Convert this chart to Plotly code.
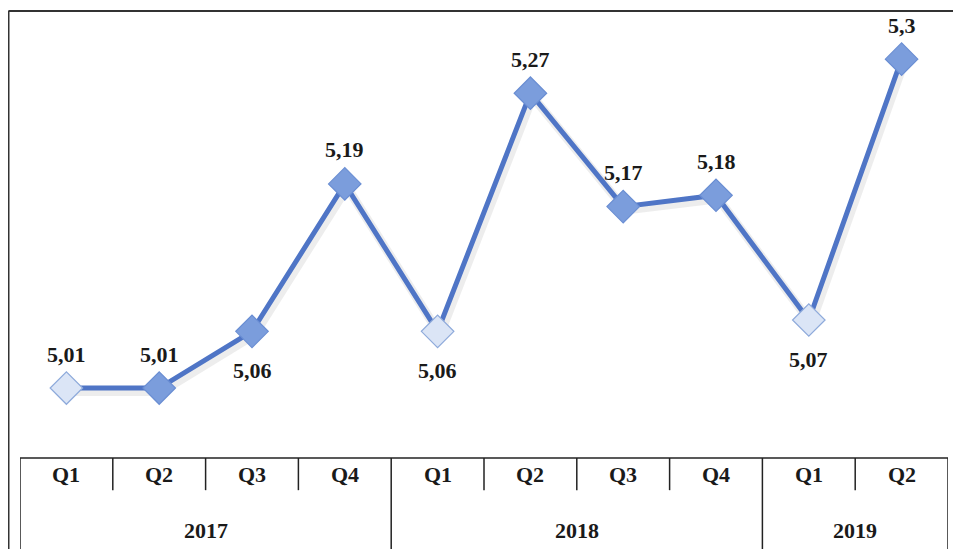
import plotly.graph_objects as go

quarters = ["Q1", "Q2", "Q3", "Q4", "Q1", "Q2", "Q3", "Q4", "Q1", "Q2"]
years = ["2017", "2018", "2019"]
year_counts = [4, 4, 2]
values = [5.01, 5.01, 5.06, 5.19, 5.06, 5.27, 5.17, 5.18, 5.07, 5.30]
labels = ["5,01", "5,01", "5,06", "5,19", "5,06", "5,27", "5,17", "5,18", "5,07", "5,3"]
label_above = [True, True, False, True, False, True, True, True, False, True]
light_points = [0, 4, 8]

x = list(range(len(values)))
dark = "#7b9ddc"
light = "#dbe5f6"
marker_colors = [light if i in light_points else dark for i in x]
marker_lines = ["#8eaadb" if i in light_points else "#6a8ed3" for i in x]

fig = go.Figure()
# soft shadow under the line
fig.add_trace(go.Scatter(x=[v + 0.025 for v in x], y=[v - 0.003 for v in values], mode="lines",
                         line=dict(color="rgba(110,110,110,0.12)", width=9),
                         hoverinfo="skip", showlegend=False))
fig.add_trace(go.Scatter(
    x=x, y=values, mode="lines+markers",
    line=dict(color="#4f75c6", width=5),
    marker=dict(symbol="diamond", size=25, color=marker_colors,
                line=dict(color=marker_lines, width=1.2)),
    showlegend=False, cliponaxis=False))

font = dict(family="Liberation Serif", size=22, color="#1a1a1a")
shapes = []
annotations = []
for xi, v, lab, above in zip(x, values, labels, label_above):
    annotations.append(dict(x=xi, y=v, xref="x", yref="y", text="<b>%s</b>" % lab,
                            showarrow=False, font=font, yanchor="middle",
                            yshift=34 if above else -39))

line_style = dict(color="#222222", width=1.5)
tbl_bottom = -0.25
q_bottom = -0.072
n = len(values)
# table top line
shapes.append(dict(type="line", xref="x", yref="paper", x0=-0.5, x1=n - 0.5,
                   y0=0, y1=0, line=line_style))
# quarter labels
for i, q in enumerate(quarters):
    annotations.append(dict(x=i, y=-0.038, xref="x", yref="paper", text="<b>%s</b>" % q,
                            showarrow=False, font=font, yanchor="middle"))
# year labels and separators
start = 0
boundaries = {0}
for yname, cnt in zip(years, year_counts):
    annotations.append(dict(x=start + (cnt - 1) / 2, y=-0.162, xref="x", yref="paper",
                            text="<b>%s</b>" % yname, showarrow=False, font=font,
                            yanchor="middle"))
    start += cnt
    boundaries.add(start)
for b in range(n + 1):
    yb = tbl_bottom if b in boundaries else q_bottom
    shapes.append(dict(type="line", xref="x", yref="paper", x0=b - 0.5, x1=b - 0.5,
                       y0=0, y1=yb, line=line_style))
# outer frame (top and left)
frame = dict(color="#333333", width=2.2)
shapes.append(dict(type="line", xref="paper", yref="paper", x0=-0.0125, x1=1.02,
                   y0=1.0, y1=1.0, line=frame))
shapes.append(dict(type="line", xref="paper", yref="paper", x0=-0.0125, x1=-0.0125,
                   y0=1.0, y1=-0.25, line=frame))

fig.update_layout(
    width=953, height=541,
    margin=dict(l=12, r=13, t=3, b=91),
    paper_bgcolor="white", plot_bgcolor="white",
    xaxis=dict(range=[-0.5, n - 0.5], showticklabels=False, showgrid=False,
               zeroline=False, showline=False, ticks=""),
    yaxis=dict(range=[4.9483, 5.3425], showticklabels=False, showgrid=False,
               zeroline=False, showline=False, ticks=""),
    shapes=shapes, annotations=annotations,
)

fig.write_html("out.html")
